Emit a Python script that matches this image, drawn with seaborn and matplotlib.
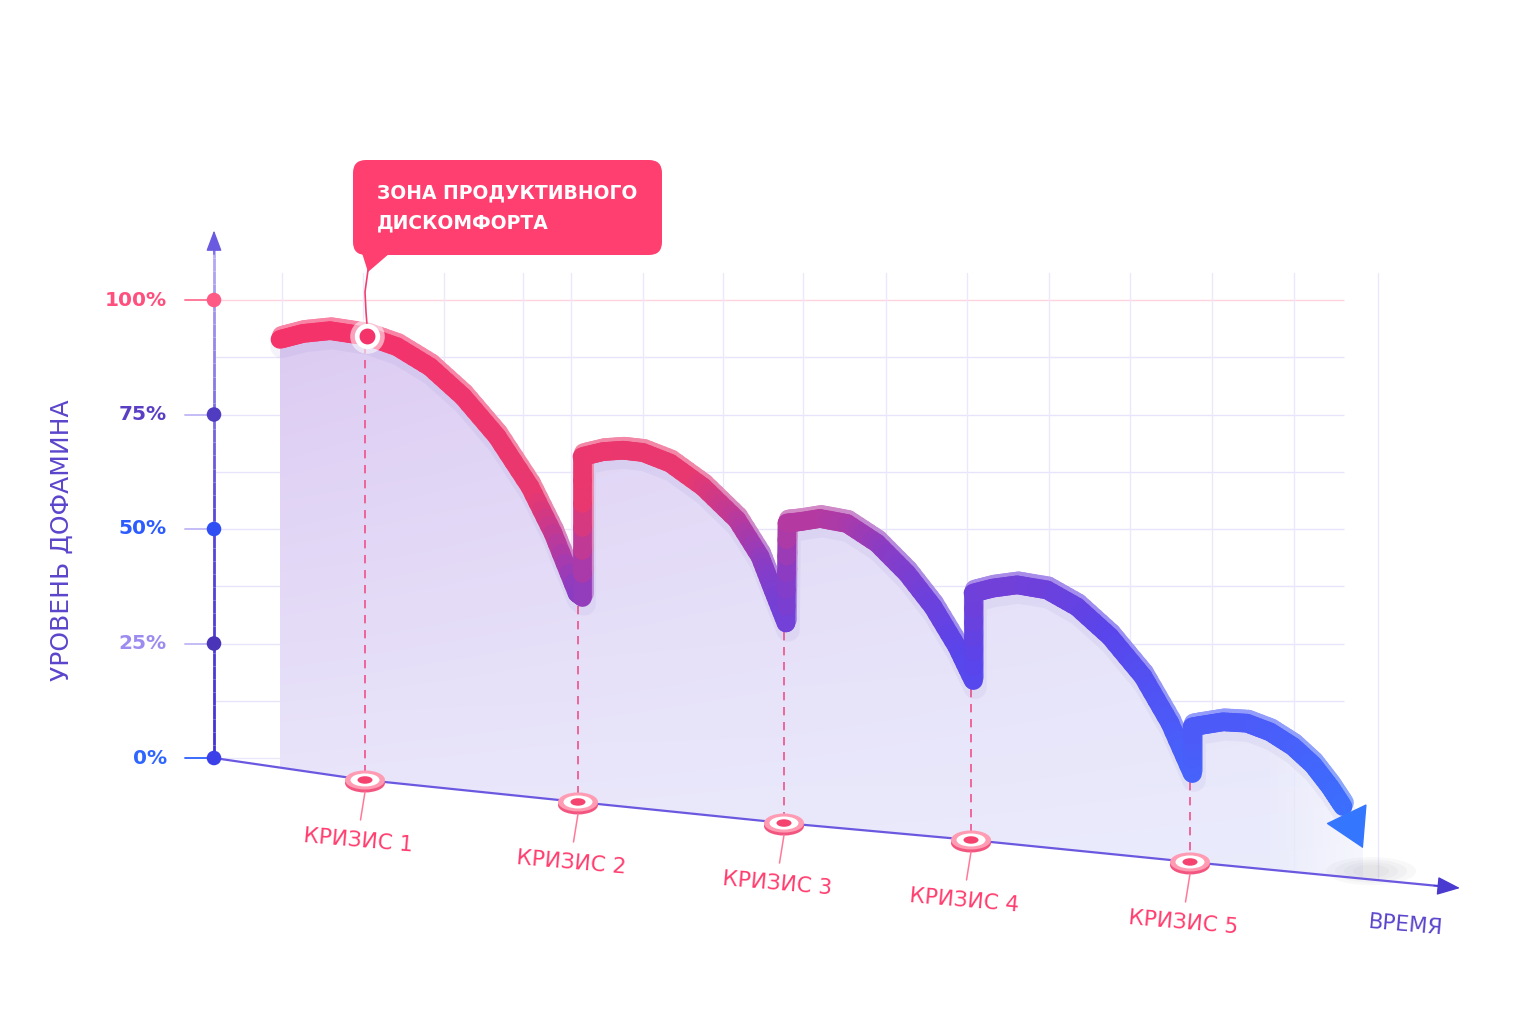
import numpy as np
import pandas as pd
import matplotlib
matplotlib.use("Agg")
import matplotlib.pyplot as plt
import matplotlib.transforms as mtransforms
from matplotlib.collections import LineCollection
from matplotlib.colors import LinearSegmentedColormap, to_rgb
from matplotlib.patches import Ellipse, FancyBboxPatch, Polygon, ArrowStyle
import seaborn as sns

# ---------------- data (time units, dopamine %) ----------------
time = [0.66, 0.89, 1.16, 1.53, 1.83, 2.16, 2.49, 2.83, 3.16, 3.39, 3.63, 3.68,
        3.68, 3.89, 4.09, 4.29, 4.56, 4.89, 5.23, 5.46, 5.59, 5.72,
        5.73, 5.86, 6.06, 6.33, 6.63, 6.93, 7.19, 7.43, 7.59,
        7.59, 7.79, 8.03, 8.33, 8.63, 8.96, 9.29, 9.56, 9.78,
        9.78, 9.89, 10.09, 10.33, 10.56, 10.79, 10.99, 11.16, 11.29]
dopamine = [91.4, 92.7, 93.3, 92.1, 89.8, 85.4, 78.9, 70.2, 59.2, 49.1, 36.0, 35.2,
            65.8, 66.9, 67.2, 66.7, 64.4, 59.2, 52.0, 44.0, 36.7, 29.5,
            51.3, 51.6, 52.3, 51.2, 46.9, 40.3, 33.0, 24.3, 17.0,
            36.0, 37.1, 37.8, 36.7, 33.0, 26.5, 17.8, 7.6, -3.3,
            6.8, 7.2, 7.9, 7.6, 5.7, 2.5, -1.5, -6.3, -10.6]
arrow_tip_time = 11.49
arrow_tip_value = -19.7

tick_values = [0, 25, 50, 75, 100]
tick_labels = ["0%", "25%", "50%", "75%", "100%"]

crisis_labels = ["КРИЗИС 1", "КРИЗИС 2", "КРИЗИС 3", "КРИЗИС 4", "КРИЗИС 5"]
crisis_time = [1.51, 3.64, 5.70, 7.57, 9.76]
crisis_floor = [-4.8, -9.6, -14.2, -17.9, -22.7]
crisis_top = [92.1, 35.2, 29.5, 17.0, -3.3]

peak_time = 1.53
peak_value = 92.1

axis_time = [0.0, 1.51, 3.64, 5.70, 7.57, 9.76, 12.46]
axis_floor = [0.0, -4.8, -9.6, -14.2, -17.9, -22.7, -28.4]

grid_time = [0.68, 1.49, 2.30, 3.09, 3.57, 4.29, 5.09, 5.89, 6.72, 7.53,
             8.35, 9.16, 9.98, 10.80, 11.64]
grid_values = [12.5, 25, 37.5, 50, 62.5, 75, 87.5, 100]

callout_lines = ["ЗОНА ПРОДУКТИВНОГО", "ДИСКОМФОРТА"]
y_title = "УРОВЕНЬ ДОФАМИНА"
x_title = "ВРЕМЯ"

# ---------------- styles ----------------
label_colors = ["#2f66ff", "#9c8cf0", "#2c5cff", "#5a3fc4", "#ff4f7d"]
dot_colors = ["#3b40e8", "#4a34b8", "#2f4ff5", "#4f3cc0", "#ff5a85"]
stub_colors = ["#3b6bff", "#c4bcf5", "#c4bcf5", "#c4bcf5", "#ff7a9a"]
PINK = "#ff3d6e"
VIOLET = "#5a45cc"

sns.set_theme(style="white")
plt.rcParams["font.family"] = ["DejaVu Sans"]

PXT = 100.0   # pixels per time unit
PXV = 4.58    # pixels per percent

fig = plt.figure(figsize=(15.36, 10.24), dpi=100, facecolor="white")
ax = fig.add_axes([0, 0, 1, 1])
ax.set_xlim(-214 / PXT, (1536 - 214) / PXT)
ax.set_ylim(-(1024 - 758) / PXV, 758 / PXV)
ax.axis("off")

t_arr = np.array(time)
v_arr = np.array(dopamine)

# ---------------- background grid ----------------
for g in grid_values:
    col = "#ffd3de" if g == 100 else "#e8e4fb"
    ax.plot([0, 11.3], [g, g], color=col, lw=1.0, zorder=1, solid_capstyle="butt")
ax.plot([0, 7.0], [0, 0], color="#ebe8fb", lw=1.0, zorder=1)
for gx in grid_time:
    fl = np.interp(gx, axis_time, axis_floor)
    ax.plot([gx, gx], [fl, 106], color="#ebe8fb", lw=1.0, zorder=1)

# ---------------- gradient fill under curve ----------------
ft = np.r_[t_arr, arrow_tip_time]
fv = np.r_[v_arr, arrow_tip_value]
fb = np.interp(ft, axis_time, axis_floor)
poly = ax.fill_between(ft, fv, fb, facecolor="none", edgecolor="none", zorder=2)
H, W = 200, 300
yy = np.linspace(1, 0, H)[:, None]
xx = np.linspace(0, 1, W)[None, :]
top = np.array(to_rgb("#dccaf2"))
bot = np.array(to_rgb("#ecebfc"))
right = np.array(to_rgb("#e9edfc"))
img = np.zeros((H, W, 4))
for c in range(3):
    base = top[c] * yy + bot[c] * (1 - yy)
    img[:, :, c] = base * (1 - 0.6 * xx) + right[c] * 0.6 * xx
img[:, :, 3] = np.clip(1.0 - np.clip((xx - 0.9) / 0.1, 0, 1) * 0.6, 0, 1) * np.ones_like(yy)
im = ax.imshow(img, extent=[0.6, 11.6, -30, 95], aspect="auto", zorder=2,
               interpolation="bilinear")
im.set_clip_path(poly.get_paths()[0], transform=ax.transData)

# ---------------- axes lines ----------------
yv = np.linspace(0, 112, 40)
segs = [[(0, yv[i]), (0, yv[i + 1])] for i in range(len(yv) - 1)]
vcm = LinearSegmentedColormap.from_list("vax", ["#4232d4", "#5a4ad8", "#b6acf3"])
ax.add_collection(LineCollection(segs, colors=vcm(np.linspace(0, 1, len(segs))),
                                 linewidths=2.0, zorder=4))
ax.annotate("", xy=(0, 115.2), xytext=(0, 110),
            arrowprops=dict(arrowstyle=ArrowStyle("-|>", head_length=0.8, head_width=0.3),
                            mutation_scale=16, color="#6a5ae0", lw=1.0,
                            shrinkA=0, shrinkB=0), zorder=4)
ax.plot(axis_time[:-1] + [12.3], axis_floor[:-1] + [np.interp(12.3, axis_time, axis_floor)],
        color="#6a58e0", lw=1.6, zorder=4)
ax.annotate("", xy=(axis_time[-1], axis_floor[-1]),
            xytext=(12.2, np.interp(12.2, axis_time, axis_floor)),
            arrowprops=dict(arrowstyle=ArrowStyle("-|>", head_length=0.8, head_width=0.32),
                            mutation_scale=18, color="#4b3ad0", lw=1.0,
                            shrinkA=0, shrinkB=0), zorder=4)

for val, lab, lc, sc in zip(tick_values, tick_labels, label_colors, stub_colors):
    ax.plot([-0.29, 0], [val, val], color=sc, lw=1.4, zorder=4)
    ax.text(-0.47, val, lab, ha="right", va="center", color=lc, fontsize=14.5,
            fontweight="bold", zorder=9)
tick_df = pd.DataFrame({"t": [0.0] * 5, "v": tick_values, "lab": tick_labels})
sns.scatterplot(data=tick_df, x="t", y="v", hue="lab", palette=dict(zip(tick_labels, dot_colors)),
                s=110, edgecolor="none", legend=False, ax=ax, zorder=6)

# ---------------- crisis dashed lines ----------------
for ct, ctop, cf in zip(crisis_time, crisis_top, crisis_floor):
    ax.plot([ct, ct], [ctop - 2, cf + 2], color="#f0508a", lw=1.2,
            dashes=(5, 4), zorder=3)

# ---------------- curve shadow (seaborn) ----------------
curve_df = pd.DataFrame({"time": time, "dopamine": dopamine})
sns.lineplot(data=curve_df, x="time", y="dopamine", sort=False, estimator=None,
             color="#6b5fb8", lw=17, alpha=0.07, ax=ax, zorder=5)
shadow_line = ax.lines[-1]
shadow_line.set_transform(mtransforms.offset_copy(ax.transData, fig, x=2, y=-7, units="dots"))
shadow_line.set_solid_capstyle("round")
shadow_line.set_solid_joinstyle("round")

# ---------------- gradient ribbon ----------------
ribbon_cmap = LinearSegmentedColormap.from_list(
    "rib", [(0.0, "#3576ff"), (0.207, "#4b5cf9"), (0.38, "#5a44ea"),
            (0.47, "#7040da"), (0.55, "#8a3cc4"), (0.61, "#b03aa4"),
            (0.70, "#e8386f"), (1.0, "#f5336b")])


def dense(xs, ys, n=6):
    X, Y = [], []
    for i in range(len(xs) - 1):
        f = np.linspace(0, 1, n, endpoint=False)
        X.extend(xs[i] + (xs[i + 1] - xs[i]) * f)
        Y.extend(ys[i] + (ys[i + 1] - ys[i]) * f)
    X.append(xs[-1])
    Y.append(ys[-1])
    return np.array(X), np.array(Y)


dx, dy = dense(t_arr, v_arr)
pts = np.column_stack([dx, dy])
rsegs = np.stack([pts[:-1], pts[1:]], axis=1)
mid_t = (dx[:-1] + dx[1:]) / 2
mid_v = (dy[:-1] + dy[1:]) / 2
score = np.clip((mid_v - 3.0 * mid_t + 55) / 145, 0, 1)
cols = ribbon_cmap(score)
light = cols.copy()
light[:, :3] = light[:, :3] * 0.6 + 0.4
lc_top = LineCollection(rsegs, colors=light, linewidths=13.5, capstyle="round",
                        joinstyle="round", zorder=6,
                        transform=mtransforms.offset_copy(ax.transData, fig, x=1.5, y=4, units="dots"))
ax.add_collection(lc_top)
lc = LineCollection(rsegs, colors=cols, linewidths=13.5, capstyle="round",
                    joinstyle="round", zorder=7)
ax.add_collection(lc)

ax.annotate("", xy=(arrow_tip_time, arrow_tip_value), xytext=(t_arr[-1], v_arr[-1]),
            arrowprops=dict(arrowstyle=ArrowStyle("-|>", head_length=1.45, head_width=0.85),
                            mutation_scale=18, color="#3576ff", lw=1,
                            shrinkA=0, shrinkB=0), zorder=7)
for k in range(4):
    ax.add_patch(Ellipse((arrow_tip_time + 0.08, arrow_tip_value - 5.0),
                         0.9 - k * 0.18, (28 - k * 5) / PXV, color="#808090",
                         alpha=0.05, lw=0, zorder=3))

# ---------------- crisis markers & labels ----------------
for ct, cf, lab in zip(crisis_time, crisis_floor, crisis_labels):
    ax.add_patch(Ellipse((ct, cf - 3 / PXV), 40 / PXT, 19 / PXV, color="#f2557f", lw=0, zorder=8))
    ax.add_patch(Ellipse((ct, cf), 40 / PXT, 19 / PXV, color="#ff9bb3", lw=0, zorder=8))
    ax.add_patch(Ellipse((ct, cf), 29 / PXT, 13 / PXV, color="white", lw=0, zorder=8))
    ax.add_patch(Ellipse((ct, cf), 15 / PXT, 7.5 / PXV, color="#f5436f", lw=0, zorder=8))
    ax.plot([ct, ct - 0.045], [cf - 12 / PXV, cf - 40 / PXV], color="#ff7a98", lw=1.1, zorder=8)
    ax.text(ct - 0.07, cf - 61 / PXV, lab, ha="center", va="center", rotation=-5,
            color=PINK, fontsize=15.5, zorder=9)

ax.text(11.92, -36.5, x_title, ha="center", va="center", rotation=-5,
        color=VIOLET, fontsize=15.5, zorder=9)
ax.text(-1.52, 47.6, y_title, ha="center", va="center", rotation=90,
        color=VIOLET, fontsize=18, zorder=9)

# ---------------- peak marker & callout ----------------
ax.scatter([peak_time], [peak_value], s=620, color="white", alpha=0.55, lw=0, zorder=9)
ax.scatter([peak_time], [peak_value], s=220, facecolor="#f5336b", edgecolor="white",
           linewidths=3.4, zorder=10)

bx0, by0 = 353, 255
bw, bh = 309, 95
box = FancyBboxPatch(((bx0 - 214) / PXT, (758 - by0) / PXV), bw / PXT, bh / PXV,
                     boxstyle="round,pad=0,rounding_size=0.13", mutation_aspect=PXT / PXV,
                     fc="#ff3f6f", ec="none", zorder=9)
ax.add_patch(box)
ax.add_patch(Polygon([((362 - 214) / PXT, (758 - 253) / PXV),
                      ((390 - 214) / PXT, (758 - 253) / PXV),
                      ((368 - 214) / PXT, (758 - 272) / PXV)],
                     closed=True, fc="#ff3f6f", ec="none", zorder=9))
ax.plot([(368 - 214) / PXT, (365 - 214) / PXT, (366 - 214) / PXT, peak_time],
        [(758 - 270) / PXV, (758 - 292) / PXV, (758 - 312) / PXV, peak_value + 2.5],
        color="#f04073", lw=1.2, zorder=9)
ax.text((377 - 214) / PXT, (758 - 193) / PXV, callout_lines[0], ha="left", va="center",
        color="white", fontsize=13.5, fontweight="bold", zorder=10)
ax.text((377 - 214) / PXT, (758 - 223) / PXV, callout_lines[1], ha="left", va="center",
        color="white", fontsize=13.5, fontweight="bold", zorder=10)

fig.savefig("out.png", dpi=100, facecolor="white")
